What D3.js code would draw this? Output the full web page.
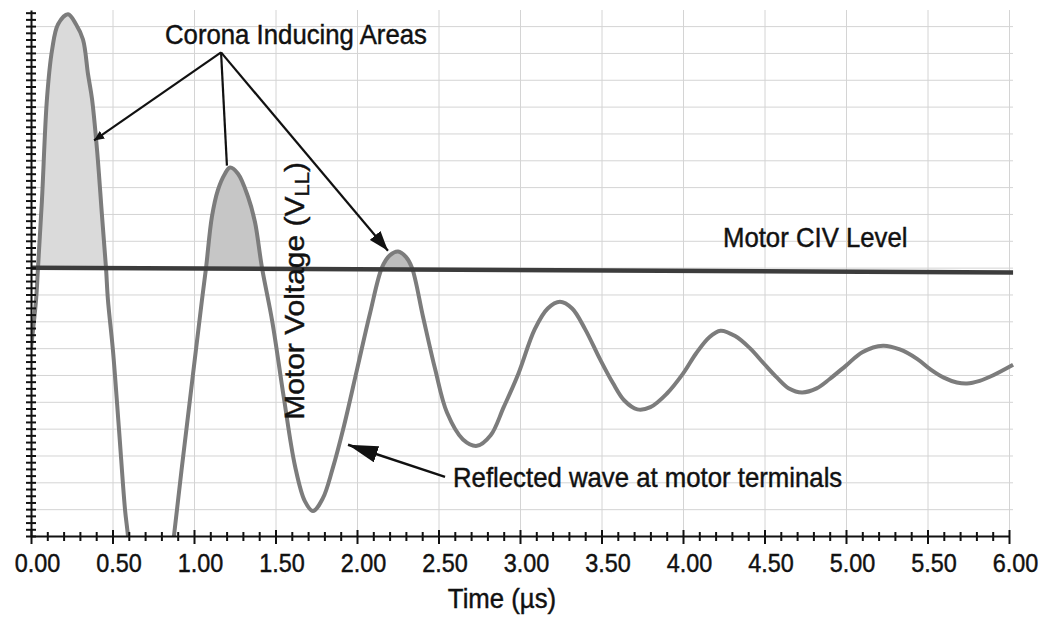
<!DOCTYPE html>
<html lang="en">
<head>
<meta charset="UTF-8">
<script src="https://cdn.jsdelivr.net/npm/d3@7"></script>
<title>Reflected wave at motor terminals</title>
<style>
  body{margin:0;background:#fff;}
  svg text{font-family:"Liberation Sans",Arial,Helvetica,sans-serif;fill:#111;stroke:#111;stroke-width:0.45px;}
  .grid line{stroke:#d4d4d4;stroke-width:1;}
  .grid path{display:none;}
  .axis path,.axis line{stroke:#111;stroke-width:2;}
</style>
</head>
<body>
<div id="container"></div>
<script>
// curve (time in us, voltage in grid divisions)
const timeUs=[0.000,0.031,0.043,0.067,0.098,0.129,0.166,0.227,0.276,0.319,0.350,0.374,0.405,0.436,0.460,0.472,0.503,0.540,0.577,0.595,0.650,0.730,0.810,0.877,0.975,1.049,1.074,1.110,1.147,1.190,1.221,1.270,1.331,1.374,1.417,1.480,1.550,1.620,1.680,1.730,1.790,1.850,1.920,2.000,2.080,2.153,2.200,2.252,2.300,2.337,2.405,2.480,2.552,2.650,2.736,2.820,2.900,2.990,3.090,3.170,3.245,3.320,3.400,3.490,3.570,3.640,3.720,3.800,3.900,4.000,4.080,4.160,4.230,4.320,4.410,4.500,4.577,4.650,4.730,4.820,4.900,5.000,5.100,5.227,5.330,5.436,5.520,5.600,5.680,5.742,5.820,5.900,6.025];
const voltage=[7.0,8.8,10.0,12.5,16.3,18.1,19.07,19.44,19.07,18.5,17.2,16.3,14.4,11.9,10.0,8.8,6.9,3.96,0.97,0.0,-4.0,-6.5,-4.0,0.0,5.07,8.8,10.0,11.9,12.9,13.5,13.73,13.5,12.65,11.7,10.0,8.0,5.2,2.6,1.3,0.93,1.4,2.5,4.1,6.2,8.3,10.0,10.45,10.6,10.4,10.0,8.17,6.2,4.6,3.6,3.36,3.75,4.8,6.05,7.7,8.48,8.73,8.48,7.7,6.6,5.7,5.05,4.72,4.8,5.3,6.05,6.8,7.4,7.65,7.45,7.0,6.4,5.9,5.5,5.35,5.5,5.85,6.35,6.85,7.09,6.95,6.6,6.2,5.9,5.72,5.68,5.78,5.98,6.38];

const civLevel=[10.0,9.82];        // left end, right end
const xTickLabels=["0.00","0.50","1.00","1.50","2.00","2.50","3.00","3.50","4.00","4.50","5.00","5.50","6.00"];
const coronaSpans=[[0.0,0.5],[1.0,1.5],[2.1,2.4]];
const coronaFills=["#dadada","#c6c6c6","#bdbdbd"];

// annotation anchors, in data units
const annoApex=[1.166,18.02];
const annoTargets=[[0.387,14.74],[1.202,13.8],[2.19,10.63]];
const waveArrow=[[2.54,2.2],[1.945,3.4]];

const width=1045, height=619;
const margin={top:10,right:36,bottom:83,left:31};
const graphWidth=width-margin.left-margin.right;
const graphHeight=height-margin.top-margin.bottom;

const svg=d3.select("#container")
            .append("svg")
            .attr("width",width)
            .attr("height",height);

svg.append("rect").attr("width",width).attr("height",height).attr("fill","#fff");

const xScale=d3.scaleLinear().domain([0,6]).range([0,graphWidth]);
const yScale=d3.scaleLinear().domain([0,19.6]).range([graphHeight,0]);

const graph=svg.append("g")
               .attr("transform",`translate(${margin.left},${margin.top})`);

const defs=svg.append("defs");

function civAt(t){ return civLevel[0]+(civLevel[1]-civLevel[0])*t/6; }

// grid
graph.append("g")
     .attr("class","grid")
     .attr("transform",`translate(0,${graphHeight})`)
     .call(d3.axisBottom(xScale).tickValues(d3.range(0.5,6.01,0.5)).tickSize(-graphHeight).tickFormat(""));
graph.append("g")
     .attr("class","grid")
     .call(d3.axisLeft(yScale).tickValues(d3.range(1,20,1)).tickSize(-(graphWidth+4)).tickFormat(""));

// plot clip (trace dips under the axis)
defs.append("clipPath").attr("id","plotClip")
    .append("rect").attr("x",0).attr("y",-margin.top).attr("width",graphWidth+6).attr("height",graphHeight+margin.top);

const pts=timeUs.map((t,i)=>({t:t,v:voltage[i]}));

// corona areas, above CIV only
const area=d3.area()
             .x(d=>xScale(d.t))
             .y0(d=>yScale(civAt(d.t)))
             .y1(d=>yScale(d.v))
             .curve(d3.curveCatmullRom.alpha(0.5));

coronaSpans.forEach(function(s,i){
   const poly=[[xScale(s[0]),-margin.top],[xScale(s[1]),-margin.top],
               [xScale(s[1]),yScale(civAt(s[1]))],[xScale(s[0]),yScale(civAt(s[0]))]];
   defs.append("clipPath").attr("id","corona"+i)
       .append("polygon").attr("points",poly.map(p=>p.join(",")).join(" "));
   graph.append("path")
        .datum(pts)
        .attr("clip-path",`url(#corona${i})`)
        .attr("fill",coronaFills[i])
        .attr("d",area);
});

// the wave
const line=d3.line().x(d=>xScale(d.t)).y(d=>yScale(d.v)).curve(d3.curveCatmullRom.alpha(0.5));
graph.append("path")
     .datum(pts)
     .attr("clip-path","url(#plotClip)")
     .attr("fill","none")
     .attr("stroke","#7c7c7c")
     .attr("stroke-width",4)
     .attr("stroke-linejoin","round")
     .attr("d",line);

// CIV level
graph.append("line")
     .attr("x1",xScale(0)).attr("y1",yScale(civLevel[0]))
     .attr("x2",xScale(6.025)).attr("y2",yScale(civLevel[1]))
     .attr("stroke","#3c3c3c")
     .attr("stroke-width",4.5);

// x axis
const xAxis=graph.append("g")
     .attr("class","axis")
     .attr("transform",`translate(0,${graphHeight})`)
     .call(d3.axisBottom(xScale)
             .tickValues(d3.range(0,61,1).map(d=>d/10))
             .tickSizeOuter(0)
             .tickFormat(function(d,i){ return i%5==0 ? xTickLabels[i/5] : ""; }));
xAxis.selectAll(".tick line")
     .attr("y1",(d,i)=>i%5==0?-6:-4)
     .attr("y2",(d,i)=>i%5==0?8:5);
xAxis.selectAll(".tick text")
     .attr("y",36).attr("dy",0).attr("x",6.7)
     .attr("transform","scale(0.9,1)")
     .style("font-size","26px")
     .attr("fill","#111");

// y axis, ticks cross the line
const yAxis=graph.append("g")
     .attr("class","axis")
     .call(d3.axisLeft(yScale).tickValues(d3.range(0,79,1).map(d=>d/4)).tickSizeOuter(0).tickFormat(""));
yAxis.selectAll(".tick line").attr("x1",-5).attr("x2",5);

// labels
function addText(str,t,v,size,anchor){
   return graph.append("text")
               .attr("transform",`translate(${xScale(t)},${yScale(v)}) scale(0.92,1)`)
               .attr("text-anchor",anchor)
               .style("font-size",size+"px")
               .text(str);
}

svg.append("text")
   .attr("transform",`translate(${margin.left+xScale(3)-18},608) scale(0.92,1)`)
   .attr("text-anchor","middle")
   .style("font-size","28px")
   .text("Time (\u00b5s)");

addText("Corona Inducing Areas",0.822,18.32,28,"start");
addText("Motor CIV Level",4.245,10.78,28,"start");
addText("Reflected wave at motor terminals",2.589,1.83,28,"start");

const yLab=graph.append("text")
     .attr("transform",`translate(${xScale(1.675)},${yScale(4.33)}) rotate(-90) scale(1,0.9)`)
     .attr("text-anchor","start")
     .style("font-size","30px");
yLab.append("tspan").text("Motor Voltage (V");
yLab.append("tspan").attr("dy",6).style("font-size","22px").text("LL");
yLab.append("tspan").attr("dy",-6).text(")");

// arrow heads
function marker(id,len,wid){
   defs.append("marker")
       .attr("id",id)
       .attr("viewBox","0 0 10 10")
       .attr("refX",10).attr("refY",5)
       .attr("markerUnits","userSpaceOnUse")
       .attr("markerWidth",len).attr("markerHeight",wid)
       .attr("preserveAspectRatio","none")
       .attr("orient","auto")
       .append("path").attr("d","M0,0L10,5L0,10z").attr("fill","#111");
}
marker("headSmall",10,9);
marker("headMid",20,14);
marker("headBig",30,17);

const heads=["url(#headSmall)",null,"url(#headMid)"];
annoTargets.forEach(function(p,i){
   graph.append("line")
        .attr("x1",xScale(annoApex[0])).attr("y1",yScale(annoApex[1]))
        .attr("x2",xScale(p[0])).attr("y2",yScale(p[1]))
        .attr("stroke","#111").attr("stroke-width",2.2)
        .attr("marker-end",heads[i]);
});

graph.append("line")
     .attr("x1",xScale(waveArrow[0][0])).attr("y1",yScale(waveArrow[0][1]))
     .attr("x2",xScale(waveArrow[1][0])).attr("y2",yScale(waveArrow[1][1]))
     .attr("stroke","#111").attr("stroke-width",2.4)
     .attr("marker-end","url(#headBig)");
</script>
</body>
</html>
